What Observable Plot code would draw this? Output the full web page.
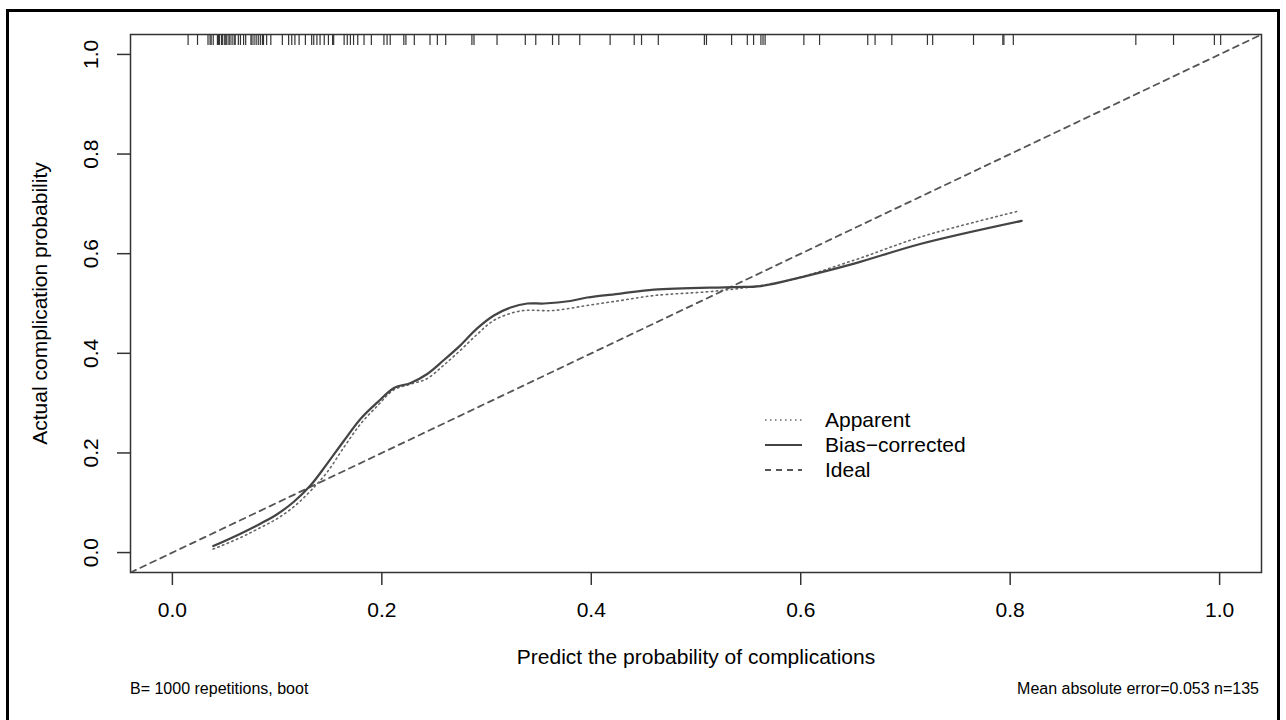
<!DOCTYPE html>
<html>
<head>
<meta charset="utf-8">
<script src="https://cdn.jsdelivr.net/npm/d3@7"></script>
<script src="https://cdn.jsdelivr.net/npm/@observablehq/plot@0.6"></script>
<style>
  html, body { margin: 0; padding: 0; background: #fff; }
  body { width: 1286px; height: 720px; position: relative; overflow: hidden; font-family: "Liberation Sans", Arial, sans-serif; }
  #frame { position: absolute; left: 6px; top: 9px; width: 1274px; height: 720px; border: 3px solid #000; box-sizing: border-box; pointer-events: none; }
  #chart { position: absolute; left: 0; top: 0; }
  .cap { position: absolute; font-size: 16px; color: #000; white-space: nowrap; }
  #legend { position: absolute; left: 760px; top: 405px; }
</style>
</head>
<body>
<div id="chart"></div>
<div id="frame"></div>
<div class="cap" style="left:130px; top:680px;">B= 1000 repetitions, boot</div>
<div class="cap" style="right:27px; top:680px;">Mean absolute error=0.053 n=135</div>
<div id="legend"></div>
<script>
// ---- data ----
const biasX = [0.039, 0.065, 0.084, 0.100, 0.116, 0.132, 0.148, 0.164, 0.180, 0.196, 0.212, 0.227, 0.243, 0.259, 0.275, 0.291, 0.307, 0.323, 0.339, 0.355, 0.380, 0.396, 0.428, 0.460, 0.536, 0.562, 0.603, 0.651, 0.715, 0.811];
const biasY = [0.013, 0.038, 0.058, 0.077, 0.102, 0.135, 0.179, 0.225, 0.269, 0.302, 0.331, 0.340, 0.358, 0.386, 0.416, 0.450, 0.476, 0.492, 0.500, 0.500, 0.505, 0.512, 0.520, 0.528, 0.533, 0.535, 0.554, 0.580, 0.620, 0.666];

const appX = [0.039, 0.065, 0.084, 0.100, 0.116, 0.132, 0.148, 0.164, 0.180, 0.196, 0.211, 0.227, 0.243, 0.259, 0.275, 0.291, 0.307, 0.332, 0.364, 0.396, 0.428, 0.460, 0.524, 0.587, 0.651, 0.715, 0.807];
const appY = [0.007, 0.030, 0.050, 0.068, 0.092, 0.124, 0.162, 0.212, 0.259, 0.295, 0.326, 0.338, 0.349, 0.376, 0.406, 0.438, 0.466, 0.485, 0.486, 0.496, 0.506, 0.516, 0.526, 0.546, 0.587, 0.634, 0.685];

// predicted probabilities (rug along the top)
const rugX = [0.015, 0.024, 0.034, 0.036, 0.037, 0.039, 0.043, 0.044, 0.045, 0.047, 0.048, 0.050, 0.051, 0.052, 0.054, 0.055, 0.057, 0.059, 0.060, 0.063, 0.065, 0.068, 0.070, 0.075, 0.076, 0.078, 0.080, 0.082, 0.084, 0.086, 0.087, 0.090, 0.094, 0.105,
  0.111, 0.114, 0.117, 0.121, 0.127, 0.133, 0.135, 0.138, 0.141, 0.145, 0.149, 0.153, 0.154, 0.164, 0.167, 0.170, 0.173, 0.177, 0.183, 0.190, 0.202, 0.205, 0.208, 0.221, 0.223, 0.231, 0.246, 0.253, 0.261, 0.286, 0.288, 0.310, 0.337, 0.347, 0.363, 0.369,
  0.389, 0.418, 0.441, 0.448, 0.464, 0.508, 0.510, 0.534, 0.549, 0.555, 0.562, 0.564, 0.566, 0.603, 0.618, 0.664, 0.671, 0.687, 0.721, 0.726, 0.765, 0.793,
  0.794, 0.803, 0.920, 0.956, 0.995, 1.001];

const axisTicks = [0, 0.2, 0.4, 0.6, 0.8, 1.0];
const axisLimits = [-0.04, 1.04];
const xTitle = "Predict the probability of complications";
const yTitle = "Actual complication probability";
const legendItems = [
  {label: "Apparent", dash: "1.5,3.5", color: "#666", width: 1.6},
  {label: "Bias\u2212corrected", dash: null, color: "#444", width: 2.2},
  {label: "Ideal", dash: "6,5", color: "#555", width: 1.8}
];

// ---- build tables ----
const bias = biasX.map((x, i) => ({x, y: biasY[i]}));
const app = appX.map((x, i) => ({x, y: appY[i]}));
const ideal = axisLimits.map(v => ({x: v, y: v}));
const rugLen = 0.022;

const fmt = d3.format(".1f");
const FS = 21;

const chart = Plot.plot({
  width: 1286,
  height: 720,
  marginLeft: 130,
  marginRight: 25,
  marginTop: 34,
  marginBottom: 148,
  style: {fontFamily: "Liberation Sans, Arial, sans-serif", fontSize: FS + "px", color: "#000", background: "transparent"},
  x: {domain: axisLimits, ticks: axisTicks, tickFormat: fmt},
  y: {domain: axisLimits, ticks: axisTicks, tickFormat: fmt},
  marks: [
    Plot.frame({stroke: "#333", strokeWidth: 1.5}),
    Plot.axisX({ticks: axisTicks, tickFormat: fmt, tickSize: 13, tickPadding: 17, stroke: "#333", strokeWidth: 1.5, fontSize: FS, label: null}),
    Plot.axisY({ticks: axisTicks, tickFormat: fmt, tickSize: 13, tickPadding: 20, tickRotate: -90, stroke: "#333", strokeWidth: 1.5, fontSize: FS, label: null, textAnchor: "middle"}),
    Plot.line(ideal, {x: "x", y: "y", stroke: "#555", strokeWidth: 1.8, strokeDasharray: "6,5", clip: true}),
    Plot.line(app, {x: "x", y: "y", stroke: "#666", strokeWidth: 1.6, strokeDasharray: "1.5,3.5", curve: "catmull-rom"}),
    Plot.line(bias, {x: "x", y: "y", stroke: "#444", strokeWidth: 2.2, curve: "catmull-rom"}),
    Plot.ruleX(rugX, {x: d => d, y1: axisLimits[1], y2: axisLimits[1] - rugLen, stroke: "#333", strokeWidth: 1.2}),
    Plot.text([xTitle], {frameAnchor: "bottom", dy: 91, fontSize: FS, fill: "#000", textAnchor: "middle"}),
    Plot.text([yTitle], {frameAnchor: "left", dx: -90, rotate: -90, fontSize: FS, fill: "#000", textAnchor: "middle"})
  ]
});
document.getElementById("chart").appendChild(chart);

// ---- legend ----
const lg = d3.select("#legend").append("svg").attr("width", 260).attr("height", 80)
  .style("font-family", "Liberation Sans, Arial, sans-serif");
legendItems.forEach((d, i) => {
  const y = 15 + i * 25;
  const line = lg.append("line").attr("x1", 5).attr("x2", 42).attr("y1", y).attr("y2", y)
    .attr("stroke", d.color).attr("stroke-width", d.width);
  if (d.dash) line.attr("stroke-dasharray", d.dash);
  lg.append("text").attr("x", 65).attr("y", y).attr("dy", "0.35em").attr("font-size", FS).attr("fill", "#000").text(d.label);
});
</script>
</body>
</html>
